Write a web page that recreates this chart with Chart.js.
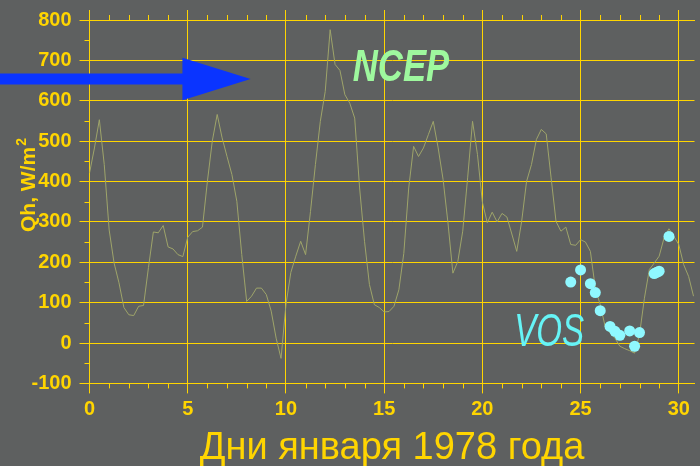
<!DOCTYPE html>
<html>
<head>
<meta charset="utf-8">
<script src="https://cdn.jsdelivr.net/npm/chart.js@4.4.1/dist/chart.umd.min.js"></script>
<style>
  html, body { margin: 0; padding: 0; background: #5e6060; }
  #wrap { width: 700px; height: 466px; }
</style>
</head>
<body>
<div id="wrap"><canvas id="c" width="700" height="466"></canvas></div>
<script>
// NCEP reanalysis, 6-hourly heat flux Qh (W/m2), January 1978
const ncepStartDay = 0;
const ncepStepDays = 0.25;
const ncepQh = [
  421, 483, 553, 442, 280, 198, 149, 88, 70, 68, 91, 93,
  187, 275, 273, 291, 238, 233, 219, 214, 262, 276, 278, 287,
  400, 500, 566, 508, 462, 417, 351, 219, 103, 116, 136, 136,
  120, 79, 12, -38, 95, 175, 215, 252, 219, 326, 442, 549,
  623, 776, 690, 675, 615, 594, 557, 384, 252, 145, 95, 88,
  77, 78, 91, 132, 222, 384, 487, 462, 483, 516, 549, 483,
  405, 297, 173, 202, 277, 409, 549, 467, 349, 298, 324, 300,
  321, 312, 270, 227, 301, 400, 442, 504, 529, 518, 409, 301,
  277, 287, 244, 242, 256, 250, 227, 136, 95, 41, 25, 12,
  -8, -14, -19, -25, 21, 111, 182, 198, 215, 260, 283, 264,
  244, 194, 165, 116
];

// VOS ship observations
const vosDays = [24.5, 25.0, 25.5, 25.75, 26.0, 26.5, 26.75, 27.0, 27.5, 27.75, 28.0, 28.75, 28.875, 29.0, 29.5];
const vosQh   = [151, 181, 147, 125, 80, 41, 29, 19, 30, -8, 26, 172, 175, 178, 264];

// axis ranges and tick steps
const dayMin = 0, dayMax = 30.8, dayStep = 5, dayMinorStep = 1;
const qhMin = -100, qhMax = 800, qhStep = 100, qhMinorStep = 50;

const GOLD = '#ffd500';
const BG = '#5e6060';

const ncepPoints = ncepQh.map((v, i) => ({ x: ncepStartDay + i * ncepStepDays, y: v }));
const vosPoints = vosDays.map((d, i) => ({ x: d, y: vosQh[i] }));

// decorations: arrow and series labels, placed in data space
const arrowSpec = { tipDay: 8.2, baseDay: 4.73, centerQh: 654, headHalf: 52.5, shaftHalf: 13.6, color: '#0a34ff' };
const seriesLabels = [
  { text: 'NCEP', day: 13.4, qh: 648, font: 'italic bold 44px "Liberation Sans"', color: '#9ef89e', sx: 0.79 },
  { text: 'VOS',  day: 21.62, qh: -8, font: 'italic 46px "Liberation Sans"', color: '#66f4f6', sx: 0.72 }
];

const background = {
  id: 'background',
  beforeDraw(chart) {
    const { ctx, width, height } = chart;
    ctx.save();
    ctx.fillStyle = BG;
    ctx.fillRect(0, 0, width, height);
    ctx.restore();
  }
};

const minorTicks = {
  id: 'minorTicks',
  afterDraw(chart) {
    const { ctx, chartArea } = chart;
    const xs = chart.scales.x, ys = chart.scales.y;
    ctx.save();
    ctx.strokeStyle = GOLD;
    ctx.lineWidth = 1;
    ctx.beginPath();
    for (let d = dayMin; d <= dayMax; d += dayMinorStep) {
      if (d % dayStep === 0) continue;
      const px = Math.round(xs.getPixelForValue(d)) + 0.5;
      ctx.moveTo(px, chartArea.bottom);
      ctx.lineTo(px, chartArea.bottom + 5);
      ctx.moveTo(px, chartArea.top);
      ctx.lineTo(px, chartArea.top - 5);
    }
    for (let q = qhMin; q <= qhMax; q += qhMinorStep) {
      if (q % qhStep === 0) continue;
      const py = Math.round(ys.getPixelForValue(q)) + 0.5;
      ctx.moveTo(chartArea.left, py);
      ctx.lineTo(chartArea.left - 5, py);
    }
    ctx.stroke();
    ctx.restore();
  }
};

const decorations = {
  id: 'decorations',
  afterDraw(chart) {
    const { ctx, chartArea } = chart;
    const xs = chart.scales.x, ys = chart.scales.y;

    // blue arrow entering from the left edge
    const a = arrowSpec;
    const tipX = xs.getPixelForValue(a.tipDay);
    const baseX = xs.getPixelForValue(a.baseDay);
    const cy = ys.getPixelForValue(a.centerQh);
    const hh = cy - ys.getPixelForValue(a.centerQh + a.headHalf);
    const sh = cy - ys.getPixelForValue(a.centerQh + a.shaftHalf);
    ctx.save();
    ctx.fillStyle = a.color;
    ctx.beginPath();
    ctx.moveTo(0, cy - sh);
    ctx.lineTo(baseX, cy - sh);
    ctx.lineTo(baseX, cy - hh);
    ctx.lineTo(tipX, cy);
    ctx.lineTo(baseX, cy + hh);
    ctx.lineTo(baseX, cy + sh);
    ctx.lineTo(0, cy + sh);
    ctx.closePath();
    ctx.fill();
    ctx.restore();

    // series names
    for (const l of seriesLabels) {
      ctx.save();
      ctx.translate(xs.getPixelForValue(l.day), ys.getPixelForValue(l.qh));
      ctx.scale(l.sx, 1);
      ctx.font = l.font;
      ctx.fillStyle = l.color;
      ctx.textAlign = 'left';
      ctx.textBaseline = 'alphabetic';
      ctx.fillText(l.text, 0, 0);
      ctx.restore();
    }

    // y axis title with superscript
    ctx.save();
    ctx.translate(chartArea.left - 54.5, 232);
    ctx.rotate(-Math.PI / 2);
    ctx.fillStyle = GOLD;
    ctx.textAlign = 'left';
    ctx.textBaseline = 'alphabetic';
    ctx.font = 'bold 21px "Liberation Sans"';
    const main = 'Qh, W/m';
    ctx.fillText(main, 0, 0);
    const w = ctx.measureText(main).width;
    ctx.font = 'bold 14px "Liberation Sans"';
    ctx.fillText('2', w + 1, -9);
    ctx.restore();
  }
};

const tickFont = { family: '"Liberation Sans"', size: 20, weight: 'bold' };

new Chart(document.getElementById('c'), {
  data: {
    datasets: [
      {
        type: 'scatter',
        label: 'VOS',
        data: vosPoints,
        backgroundColor: '#8ff8ff',
        borderWidth: 0,
        pointRadius: 5.5,
        pointHoverRadius: 5.5
      },
      {
        type: 'line',
        label: 'NCEP',
        data: ncepPoints,
        borderColor: '#9ea46a',
        borderWidth: 1,
        pointRadius: 0,
        tension: 0,
        fill: false
      }
    ]
  },
  options: {
    responsive: false,
    devicePixelRatio: 1,
    animation: false,
    events: [],
    layout: { padding: { left: 23.5, top: 9, right: 0, bottom: 0 } },
    plugins: { legend: { display: false }, tooltip: { enabled: false } },
    scales: {
      x: {
        type: 'linear',
        position: 'bottom',
        min: dayMin,
        max: dayMax,
        ticks: {
          stepSize: dayStep,
          includeBounds: false,
          autoSkip: false,
          maxRotation: 0,
          color: GOLD,
          font: tickFont,
          padding: 4
        },
        grid: { color: GOLD, lineWidth: 1, tickLength: 10, tickColor: GOLD },
        border: { color: GOLD, width: 1 },
        title: {
          display: true,
          text: 'Дни января 1978 года',
          color: GOLD,
          font: { family: '"Liberation Sans"', size: 38, weight: 'normal' },
          padding: { top: 0, bottom: -5 }
        }
      },
      xTop: {
        type: 'linear',
        position: 'top',
        min: dayMin,
        max: dayMax,
        ticks: { display: false, stepSize: dayStep, includeBounds: false },
        grid: { drawOnChartArea: false, color: GOLD, tickLength: 10, tickColor: GOLD },
        border: { color: GOLD, width: 1 }
      },
      y: {
        type: 'linear',
        position: 'left',
        min: qhMin,
        max: qhMax,
        ticks: {
          stepSize: qhStep,
          color: GOLD,
          font: tickFont,
          padding: 8
        },
        grid: { color: GOLD, lineWidth: 1, tickLength: 10, tickColor: GOLD },
        border: { color: GOLD, width: 1 }
      }
    }
  },
  plugins: [background, minorTicks, decorations]
});
</script>
</body>
</html>
